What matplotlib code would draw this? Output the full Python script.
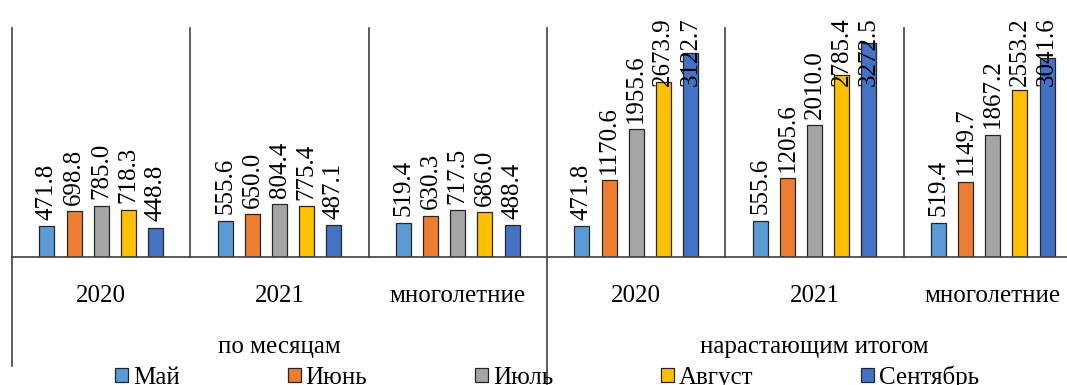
import numpy as np
import matplotlib.pyplot as plt

plt.rcParams['font.family'] = 'Liberation Serif'
plt.rcParams['font.size'] = 18

groups = ['2020', '2021', 'многолетние', '2020', '2021', 'многолетние']
sections = ['по месяцам', 'нарастающим итогом']
months = ['Май', 'Июнь', 'Июль', 'Август', 'Сентябрь']
colors = ['#5B9BD5', '#ED7D31', '#A5A5A5', '#FFC000', '#4472C4']

may = [471.8, 555.6, 519.4, 471.8, 555.6, 519.4]
june = [698.8, 650.0, 630.3, 1170.6, 1205.6, 1149.7]
july = [785.0, 804.4, 717.5, 1955.6, 2010.0, 1867.2]
august = [718.3, 775.4, 686.0, 2673.9, 2785.4, 2553.2]
september = [448.8, 487.1, 488.4, 3122.7, 3272.5, 3041.6]
series = [may, june, july, august, september]

W, H = 1067, 385
fig = plt.figure(figsize=(W / 100, H / 100), dpi=100)
# plot area: 12..1082 px wide, 28..257 px from top
ax = fig.add_axes([12 / W, 1 - 257 / H, 1070 / W, 229 / H])
ax.set_xlim(0, 6)
ax.set_ylim(0, 3500)
ax.axis('off')

def ypx(p):
    # pixel row from top -> axes fraction
    return (257 - p) / 229

x = np.arange(len(groups)) + 0.5
step = 0.152
width = 0.084
labels = []
for j, (vals, c, m) in enumerate(zip(series, colors, months)):
    xs = x + (j - 2) * step
    ax.bar(xs, vals, width, color=c, edgecolor='#262626', linewidth=0.9, label=m)
    for xi, v in zip(xs, vals):
        t = ax.text(xi, v + 100, f'{v:.1f}', rotation=90, ha='center', va='bottom')
        labels.append(t)

ax.axhline(0, color='#404040', lw=1.2, clip_on=False)

# separators between categories
tr = ax.get_xaxis_transform()
line_kw = dict(color='#404040', lw=1.2, clip_on=False, transform=tr)
ax.plot([0, 0], [1, ypx(366)], **line_kw)
ax.plot([3, 3], [1, ypx(386)], **line_kw)
for xs in [1, 2, 4, 5]:
    ax.plot([xs, xs], [1, 0], **line_kw)

for xi, g in zip(x, groups):
    ax.text(xi, ypx(302), g, transform=tr, ha='center', va='baseline')
for k, s in enumerate(sections):
    ax.text(1.5 + 3 * k, ypx(353), s, transform=tr, ha='center', va='baseline')

fig.legend(loc='center', bbox_to_anchor=(547 / W, 1 - 377 / H), ncol=5,
           frameon=False, handlelength=0.52, handleheight=0.52,
           handletextpad=0.2, columnspacing=4.3, borderpad=0, borderaxespad=0)

# keep value labels inside the chart area
fig.canvas.draw()
r = fig.canvas.get_renderer()
limit = H - 17
for t in labels:
    bb = t.get_window_extent(r)
    if bb.y1 > limit:
        y0 = ax.transData.transform((0, t.get_position()[1]))[1]
        t.set_y(ax.transData.inverted().transform((0, y0 - (bb.y1 - limit)))[1])

fig.savefig('out.png', dpi=100)
